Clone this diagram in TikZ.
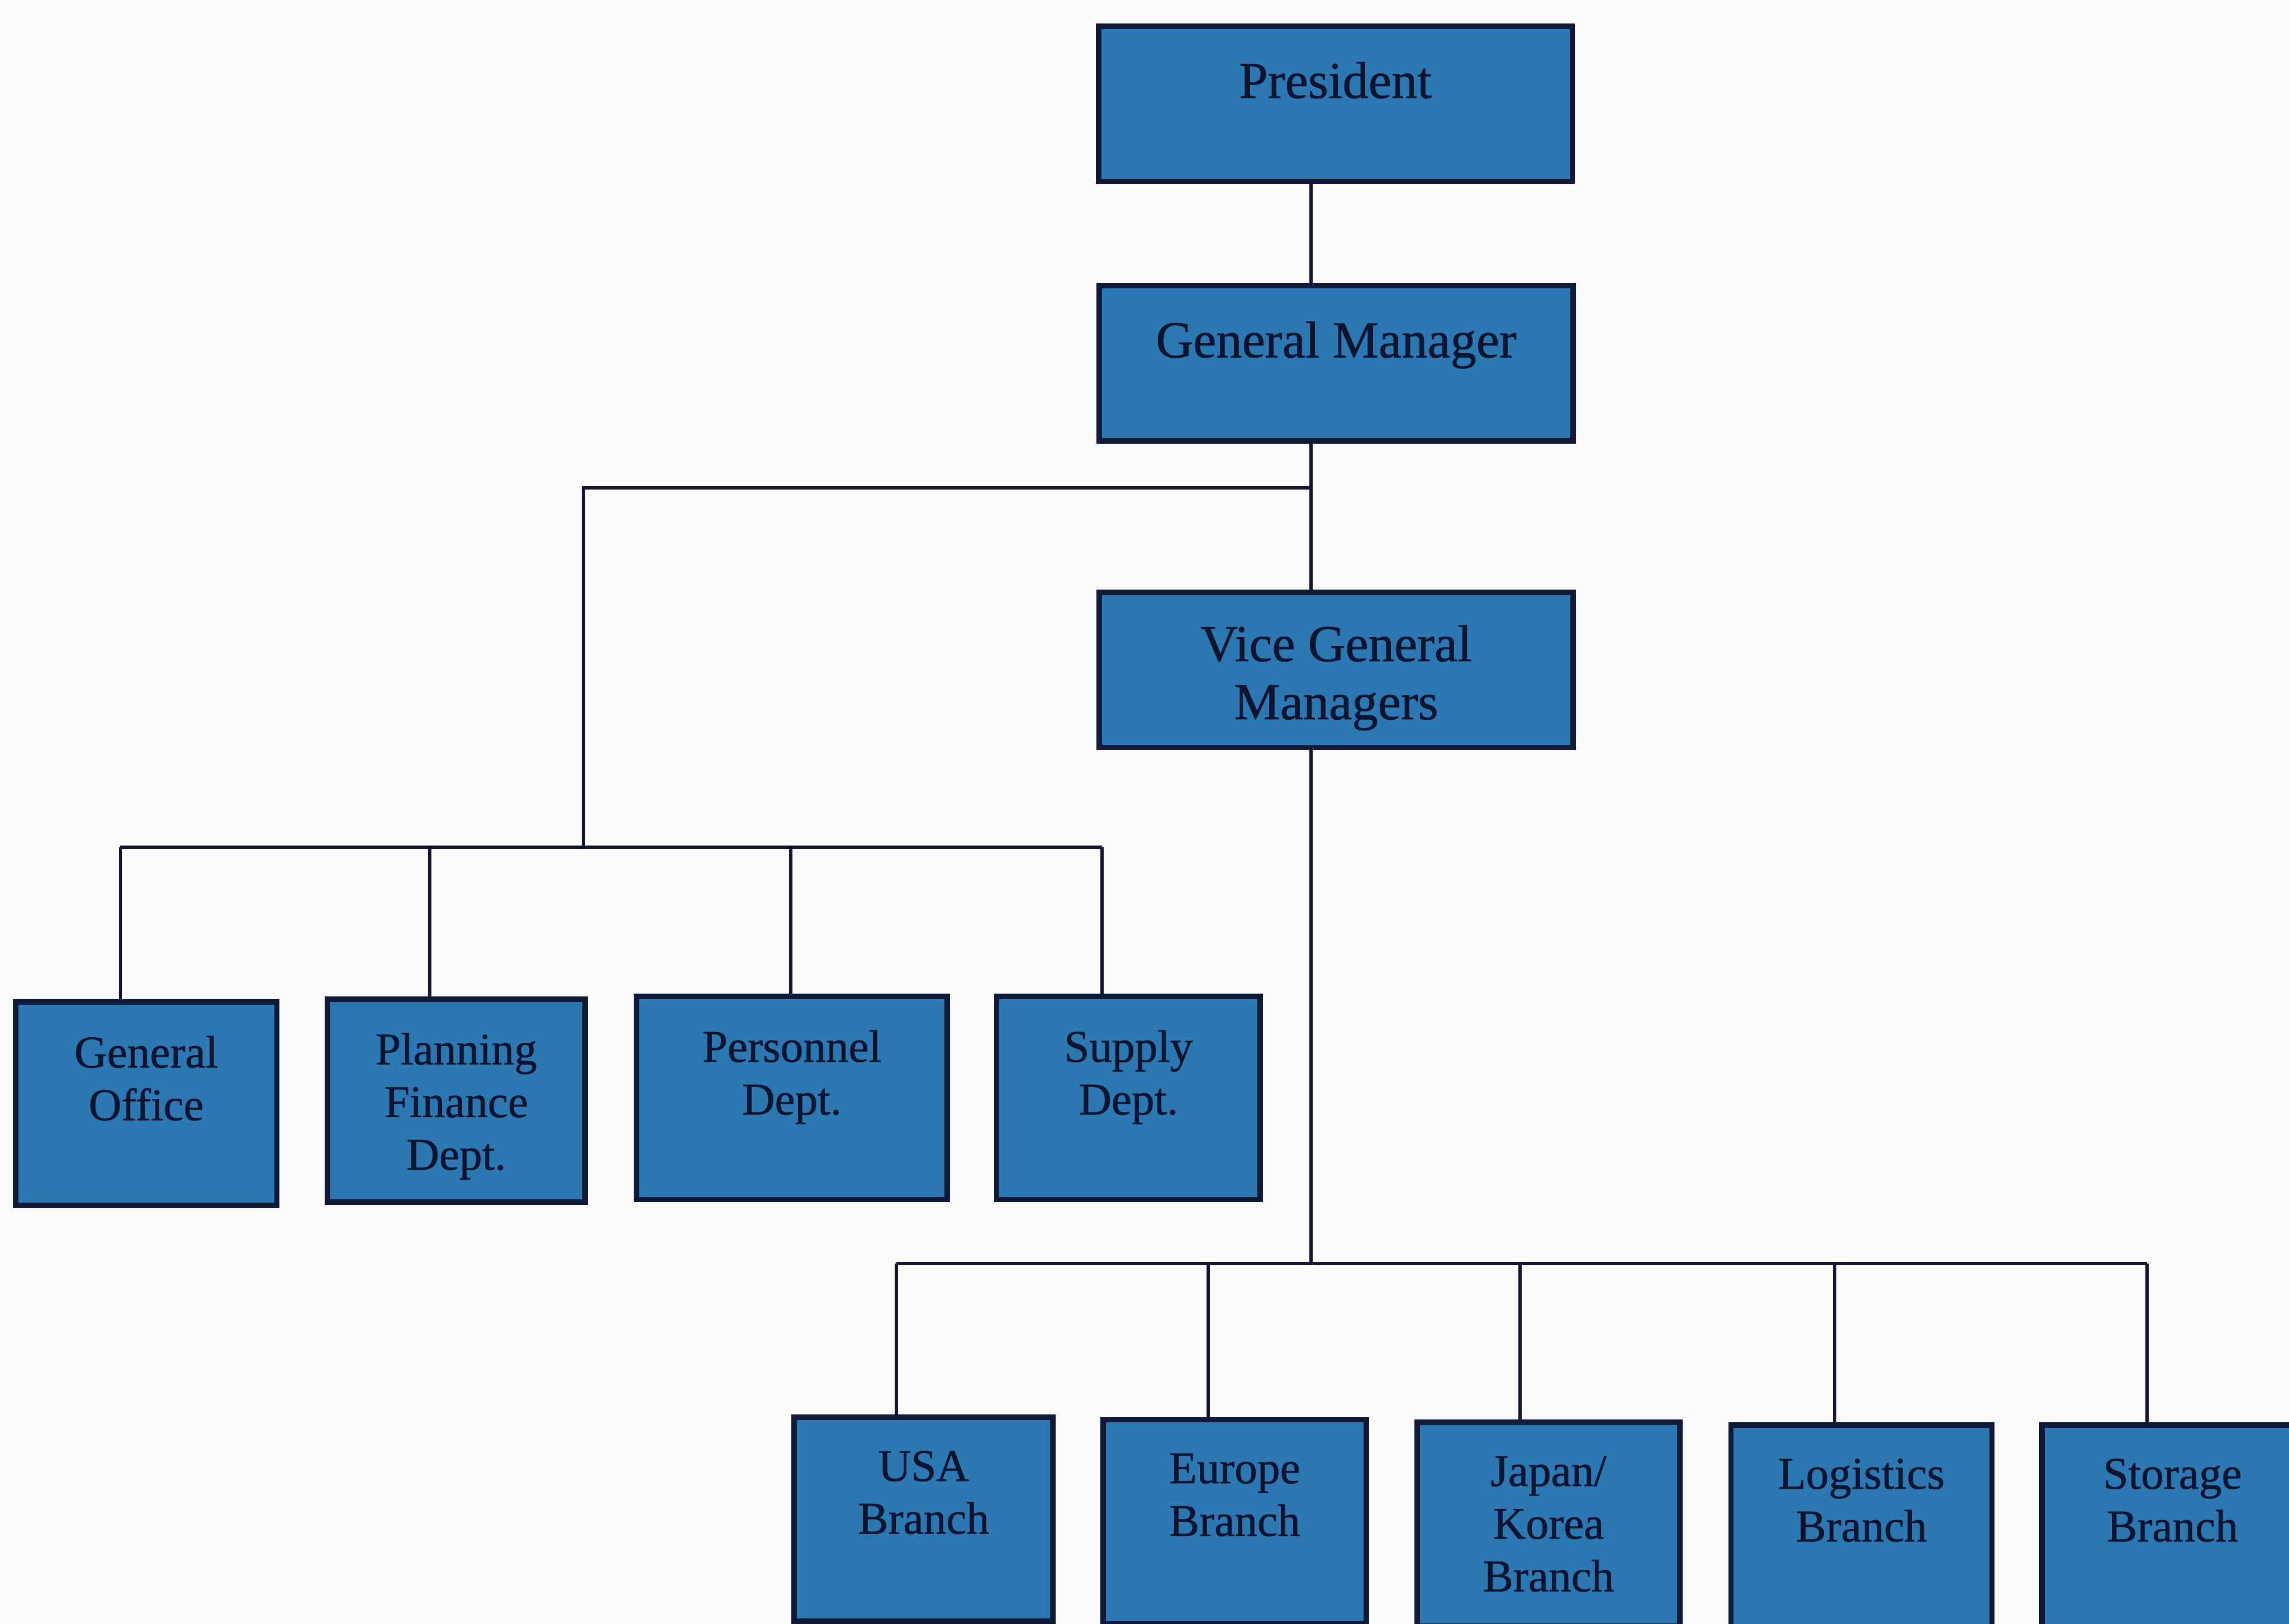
\documentclass[tikz,border=0pt]{standalone}
\usepackage{fontspec}
\setmainfont{Liberation Serif}[FakeBold=0.9]
\usetikzlibrary{positioning}
\definecolor{boxblue}{RGB}{44,120,178}
\definecolor{boxedge}{RGB}{14,26,56}
\definecolor{inkblue}{RGB}{12,20,48}
\definecolor{linkink}{RGB}{20,22,48}
\definecolor{paper}{RGB}{250,251,250}
\begin{document}
\begin{tikzpicture}[x=1cm,y=1cm,
  unitbox/.style={draw=boxedge, fill=boxblue, line width=3pt, inner sep=0pt},
  headbox/.style={unitbox, minimum width=9.17cm, minimum height=3.0cm},
  deptbox/.style={unitbox, minimum height=3.93cm},
  branchbox/.style={unitbox, minimum height=3.95cm},
  headtext/.style={inner sep=0pt, align=center, text=inkblue,
    font=\fontsize{28.5}{32}\selectfont, execute at begin node=\rule{0pt}{0.75em}},
  unittext/.style={inner sep=0pt, align=center, text=inkblue,
    font=\fontsize{25}{29}\selectfont, execute at begin node=\rule{0pt}{0.75em}},
  link/.style={draw=linkink, line width=1.8pt}]

% page area
\fill[paper] (0,0) rectangle (44.30,-31.42);
\useasboundingbox (0,0) rectangle (44.30,-31.42);
\clip (0,0) rectangle (44.30,-31.42);

% top of the hierarchy
\node[headbox] (pres) at (25.845,-2.01) {};
\node[headbox] (gm)   at (25.86,-7.03) {};
\node[headbox] (vgm)  at (25.86,-12.965) {};
\node[headtext, below=0.68cm of pres.north] (presT) {President};
\node[headtext, below=0.68cm of gm.north] (gmT) {General Manager};
\node[headtext, below=0.68cm of vgm.north] (vgmT) {Vice General\\Managers};

% staff departments
\node[deptbox, minimum width=5.06cm] (go) at (2.83,-21.36) {};
\node[deptbox, minimum width=4.98cm] (pf) at (8.83,-21.30) {};
\node[deptbox, minimum width=6.01cm] (pd) at (15.325,-21.25) {};
\node[deptbox, minimum width=5.10cm] (sd) at (21.84,-21.25) {};
\node[unittext, below=0.70cm of go.north] (goT) {General\\Office};
\node[unittext, below=0.70cm of pf.north] (pfT) {Planning\\Finance\\Dept.};
\node[unittext, below=0.70cm of pd.north] (pdT) {Personnel\\Dept.};
\node[unittext, below=0.70cm of sd.north] (sdT) {Supply\\Dept.};

% branches
\node[branchbox, minimum width=5.01cm] (usa) at (17.875,-29.40) {};
\node[branchbox, minimum width=5.09cm] (eu)  at (23.895,-29.45) {};
\node[branchbox, minimum width=5.08cm] (jk)  at (29.97,-29.50) {};
\node[branchbox, minimum width=5.05cm] (lg)  at (36.025,-29.55) {};
\node[branchbox, minimum width=5.05cm] (st)  at (42.045,-29.55) {};
\node[unittext, below=0.70cm of usa.north] (usaT) {USA\\Branch};
\node[unittext, below=0.70cm of eu.north] (euT) {Europe\\Branch};
\node[unittext, below=0.70cm of jk.north] (jkT) {Japan/\\Korea\\Branch};
\node[unittext, below=0.70cm of lg.north] (lgT) {Logistics\\Branch};
\node[unittext, below=0.70cm of st.north] (stT) {Storage\\Branch};

% connector points
\coordinate (trunk) at (25.37,0);
\coordinate (split) at (25.37,-9.44);
\coordinate (deptDown) at (11.29,-16.40);
\coordinate (dGO) at (2.33,-16.40);
\coordinate (dPF) at (8.32,-16.40);
\coordinate (dPD) at (15.30,-16.40);
\coordinate (dSD) at (21.33,-16.40);
\coordinate (bbus) at (25.37,-24.45);
\coordinate (bUSA) at (17.35,-24.45);
\coordinate (bEU) at (23.38,-24.45);
\coordinate (bJK) at (29.42,-24.45);
\coordinate (bLG) at (35.51,-24.45);
\coordinate (bST) at (41.55,-24.45);

% main trunk
\draw[link] (pres.south -| trunk) -- (gm.north -| trunk);
\draw[link] (gm.south -| trunk) -- (vgm.north -| trunk);
\draw[link] (vgm.south -| trunk) -- (bbus);

% departments under the general manager
\draw[link] (split) -| (deptDown);
\draw[link] (dGO) -- (dSD);
\draw[link] (dGO) -- (go.north -| dGO);
\draw[link] (dPF) -- (pf.north -| dPF);
\draw[link] (dPD) -- (pd.north -| dPD);
\draw[link] (dSD) -- (sd.north -| dSD);

% branches under the vice general managers
\draw[link] (bUSA) -- (bST);
\draw[link] (bUSA) -- (usa.north -| bUSA);
\draw[link] (bEU) -- (eu.north -| bEU);
\draw[link] (bJK) -- (jk.north -| bJK);
\draw[link] (bLG) -- (lg.north -| bLG);
\draw[link] (bST) -- (st.north -| bST);
\end{tikzpicture}
\end{document}
